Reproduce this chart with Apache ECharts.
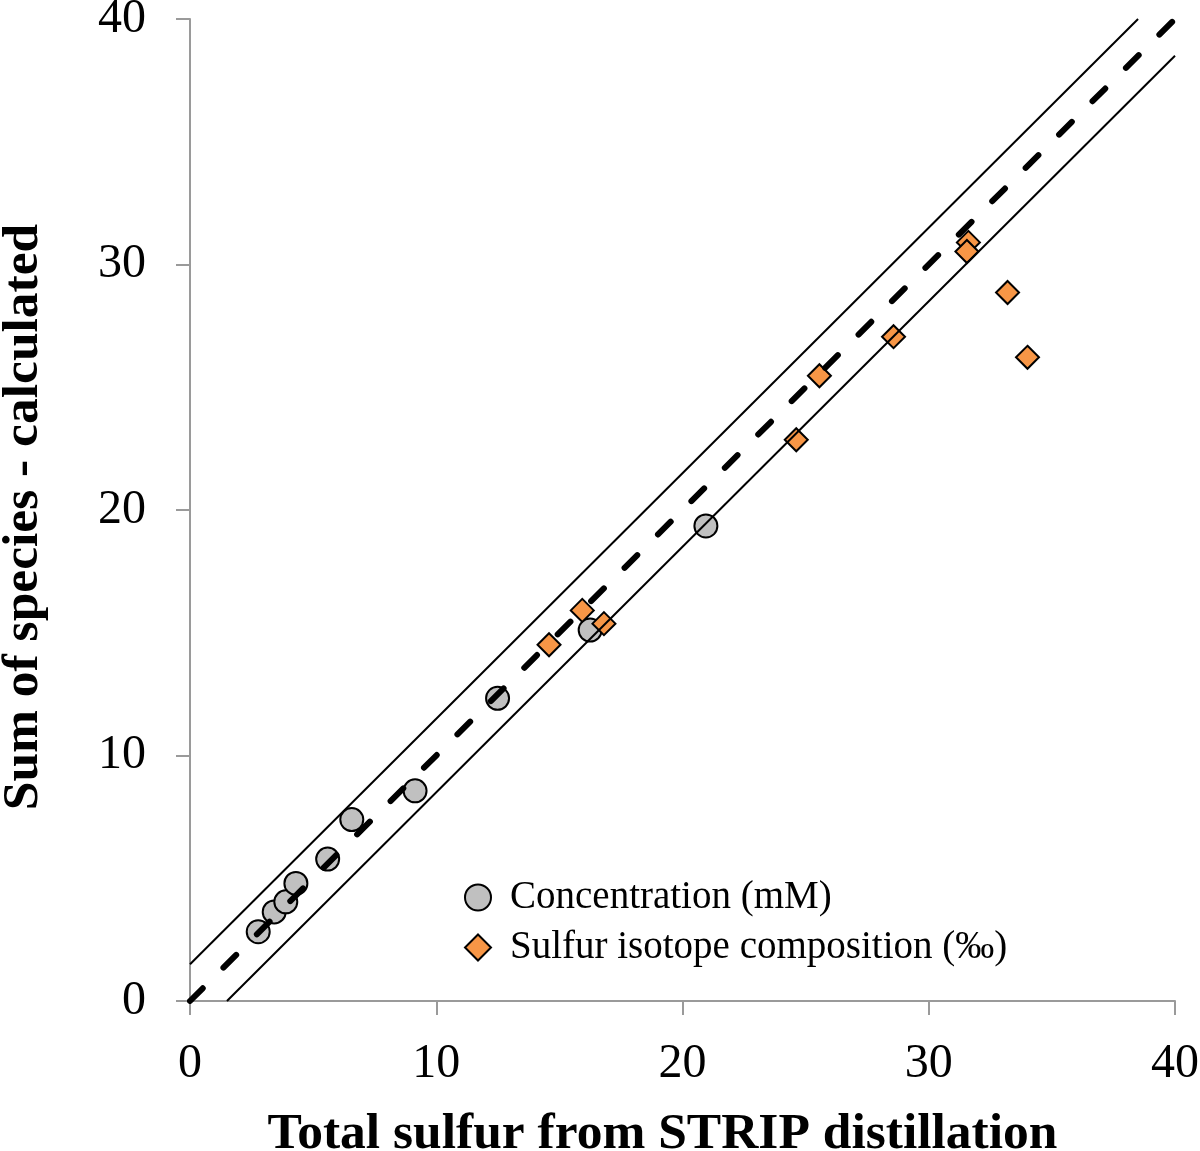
<!DOCTYPE html>
<html>
<head>
<meta charset="utf-8">
<script src="https://cdn.jsdelivr.net/npm/echarts@6/dist/echarts.min.js"></script>
<style>
html,body{margin:0;padding:0;background:#fff;}
#chart{width:1200px;height:1151px;}
</style>
</head>
<body>
<div id="chart"></div>
<script>
// Data
const concentrationPoints = [
  [2.77, 2.82], [3.42, 3.63], [3.89, 4.04], [4.30, 4.79], [5.59, 5.78],
  [6.57, 7.39], [9.14, 8.56], [12.49, 12.33], [16.25, 15.11], [20.95, 19.35]
];
const isotopePoints = [
  [14.58, 14.51], [15.93, 15.91], [16.81, 15.37], [24.62, 22.86], [25.56, 25.47],
  [28.57, 27.06], [31.61, 30.90], [31.55, 30.53], [33.20, 28.86], [34.01, 26.22]
];
const oneToOneLine = [[0, 0], [40, 40]];
const upperBound = [[0, 1.5], [38.5, 40]];
const lowerBound = [[1.5, 0], [40, 38.5]];
const axisMin = 0, axisMax = 40, axisStep = 10;
const seriesNames = ['Concentration (mM)', 'Sulfur isotope composition (‰)'];
const xTitle = 'Total sulfur from STRIP distillation';
const yTitle = 'Sum of species - calculated';

const serif = "'Liberation Serif', 'Times New Roman', serif";
const chart = echarts.init(document.getElementById('chart'), null, {renderer: 'canvas'});

const axisCommon = {
  type: 'value', min: axisMin, max: axisMax, interval: axisStep,
  splitLine: {show: false},
  axisLine: {show: true, lineStyle: {color: '#9a9a9a', width: 2}},
  axisTick: {show: true, length: 14, inside: false, lineStyle: {color: '#9a9a9a', width: 2}},
  nameLocation: 'middle'
};

chart.setOption({
  backgroundColor: '#fff',
  animation: false,
  grid: {left: 190, right: 25, top: 19, bottom: 150, containLabel: false, outerBoundsMode: 'none'},
  legend: {
    data: seriesNames,
    orient: 'vertical',
    left: 459, top: 873,
    itemWidth: 26, itemHeight: 26,
    itemGap: 11,
    textStyle: {fontFamily: serif, fontSize: 39, color: '#000', padding: [0, 0, 0, 14]}
  },
  xAxis: Object.assign({}, axisCommon, {
    name: xTitle, nameGap: 108,
    nameTextStyle: {fontFamily: serif, fontWeight: 'bold', fontSize: 51.5, color: '#000', padding: [0, 40, 0, 0]},
    axisLabel: {fontFamily: serif, fontSize: 48, color: '#000', margin: 39}
  }),
  yAxis: Object.assign({}, axisCommon, {
    name: yTitle, nameGap: 140,
    nameTextStyle: {fontFamily: serif, fontWeight: 'bold', fontSize: 51.5, color: '#000', padding: [0, 14, 0, 0]},
    axisLabel: {fontFamily: serif, fontSize: 48, color: '#000', margin: 44}
  }),
  series: [
    {
      name: seriesNames[0], type: 'scatter', data: concentrationPoints,
      symbol: 'circle', symbolSize: 23, z: 2,
      itemStyle: {color: '#c0c0c0', borderColor: '#000', borderWidth: 2, opacity: 1}
    },
    {
      name: seriesNames[1], type: 'scatter', data: isotopePoints,
      symbol: 'diamond', symbolSize: 23, z: 2,
      itemStyle: {color: '#f79646', borderColor: '#000', borderWidth: 2, opacity: 1}
    },
    {
      name: 'upper', type: 'line', data: upperBound, showSymbol: false, symbol: 'none', z: 3,
      lineStyle: {color: '#000', width: 2}, silent: true
    },
    {
      name: 'lower', type: 'line', data: lowerBound, showSymbol: false, symbol: 'none', z: 3,
      lineStyle: {color: '#000', width: 2}, silent: true
    },
    {
      name: '1:1', type: 'line', data: oneToOneLine, showSymbol: false, symbol: 'none', z: 4,
      lineStyle: {color: '#000', width: 6, type: [18, 29.2], cap: 'round'}, silent: true
    }
  ]
});
</script>
</body>
</html>
